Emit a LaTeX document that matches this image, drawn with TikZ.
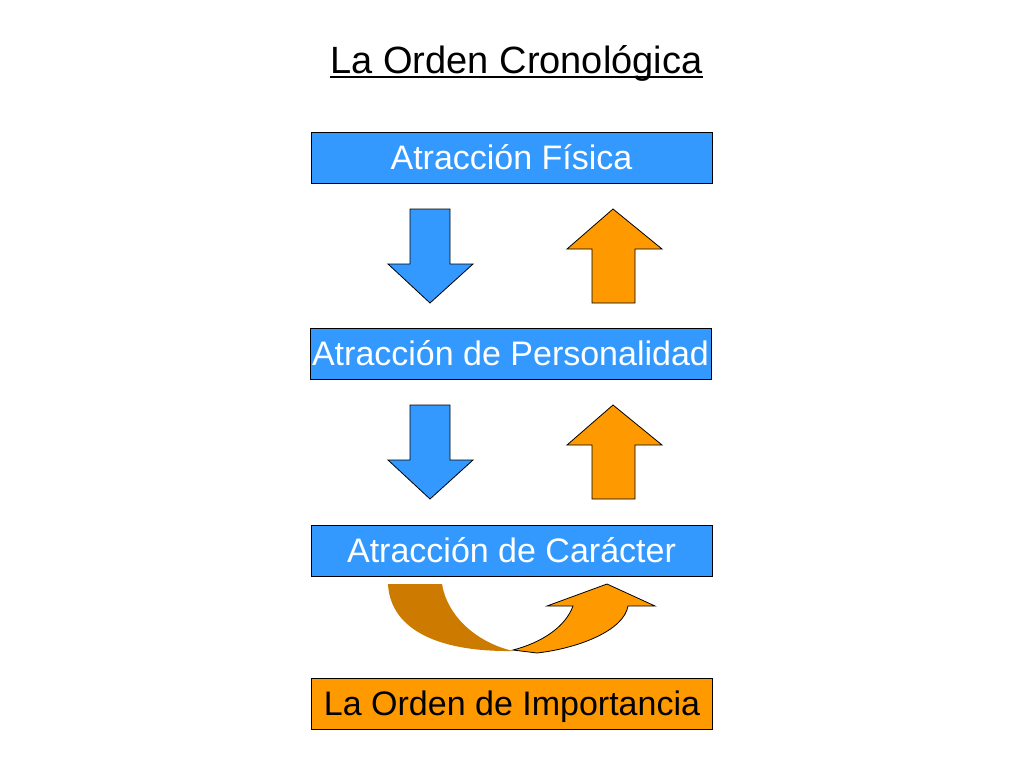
\documentclass[tikz,border=0pt]{standalone}
\usepackage{fontspec}
\setmainfont{Liberation Sans}
\usetikzlibrary{calc}
\definecolor{boxblue}{HTML}{3399FF}
\definecolor{boxorange}{HTML}{FF9900}
\definecolor{darkorange}{HTML}{CC7A00}
\tikzset{
  stage/.style={draw=black, line width=1pt, fill=boxblue, text=white,
    minimum width=401pt, minimum height=51pt, inner sep=0pt,
    text height=24pt, text depth=0pt, font=\fontsize{34}{40}\selectfont},
  blockdown/.style={draw=black, line width=0.8pt, fill=boxblue},
  blockup/.style={draw=black, line width=0.8pt, fill=boxorange}
}
\begin{document}
\begin{tikzpicture}[x=1pt,y=-1pt]
\useasboundingbox (0,0) rectangle (1024,768);
% Title
\node[font=\fontsize{38}{44}\selectfont, anchor=base, inner sep=0pt] (title) at (516.5,73) {La Orden Cronológica};
\draw[line width=2pt] ($(title.base west)+(0,3.5)$) -- ($(title.base east)+(0,3.5)$);

% Stages
\node[stage] (fisica) at (511.5,157.5) {Atracción Física};
\node[stage] (personalidad) at (510.5,353.5) {Atracción de Personalidad};
\node[stage] (caracter) at (511.5,550.5) {Atracción de Carácter};
\node[stage, fill=boxorange, text=black] (importancia) at (512,703.5) {La Orden de Importancia};

% Block arrows between stages
\foreach \dy in {0,196} {
  \begin{scope}[shift={(0,\dy)}]
    \draw[blockdown] (410,209) -- (450,209) -- (450,264) -- (473,264) -- (430,303) -- (388,264) -- (410,264) -- cycle;
    \draw[blockup] (592,303) -- (635,303) -- (635,249) -- (662,249) -- (613,209) -- (567,249) -- (592,249) -- cycle;
  \end{scope}
}

% Curved arrow
\fill[darkorange] (388,584) .. controls (390,625) and (430,652) .. (513,651)
  .. controls (475,642) and (447,615) .. (442,584) -- cycle;
\draw[blockup] (513,650) -- (537,653) .. controls (580,648) and (624,630) .. (628,606)
  -- (655,606) -- (607,584) -- (547,606) -- (573,606)
  .. controls (565,628) and (540,643) .. (513,650) -- cycle;
\end{tikzpicture}
\end{document}
